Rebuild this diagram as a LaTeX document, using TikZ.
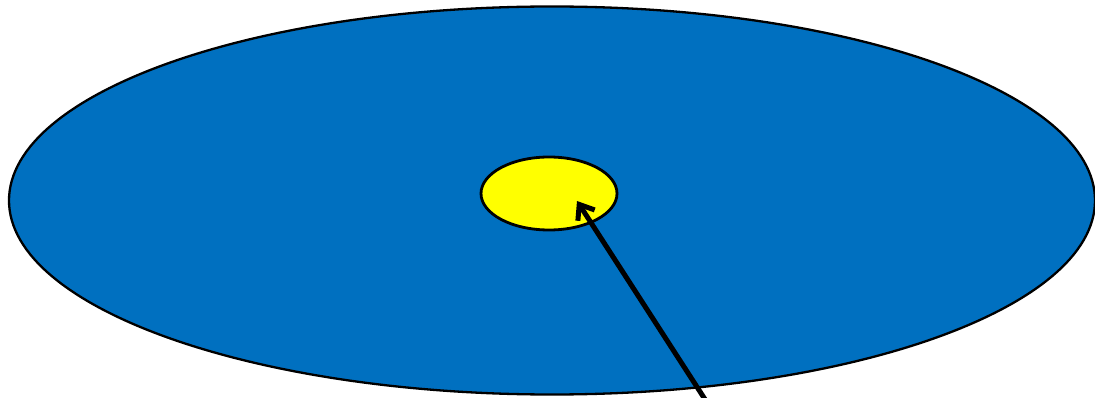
\documentclass[tikz,border=0pt]{standalone}
\usetikzlibrary{shapes.geometric,arrows.meta}
\definecolor{discblue}{HTML}{0070C0}
\definecolor{coreyellow}{HTML}{FFFF00}
\tikzset{
  disc/.style={ellipse, draw=black, line width=2.3pt, fill=discblue, inner sep=0pt},
  core/.style={ellipse, draw=black, line width=2.8pt, fill=coreyellow, inner sep=0pt},
  pointer/.style={line width=5pt, -{Straight Barb[length=13pt,width=20pt]}}
}
\begin{document}
\begin{tikzpicture}[x=1pt,y=-1pt]
\useasboundingbox (0,0) rectangle (1095,398);
\node[disc, minimum width=1086pt, minimum height=388pt] (disc) at (552,200.5) {};
\node[core, minimum width=136pt, minimum height=73pt] (core) at (549,193.5) {};
\coordinate (tail) at (708,404);
\coordinate (tip) at (577,201);
\draw[pointer] (tail) -- (tip);
\end{tikzpicture}
\end{document}
